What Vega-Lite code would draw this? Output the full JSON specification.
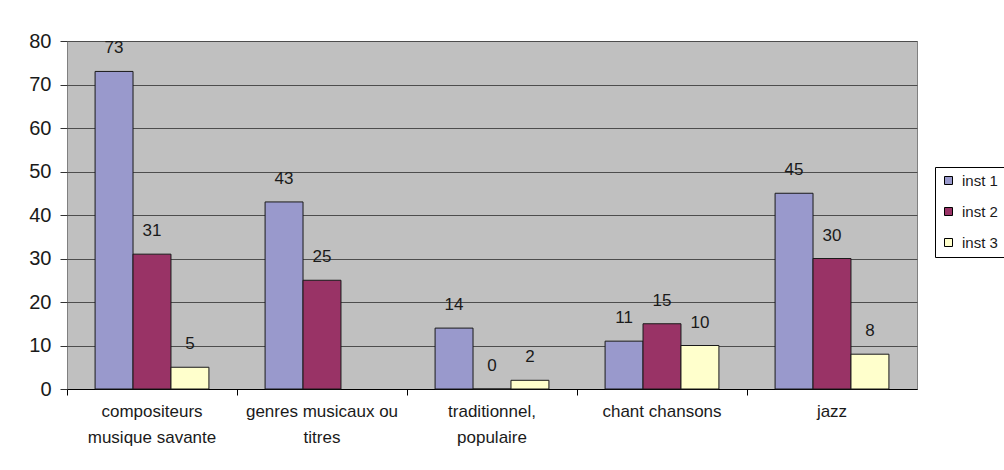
{
  "$schema": "https://vega.github.io/schema/vega-lite/v6.json",
  "autosize": {"type": "none"},
  "padding": {"left": 67, "top": 41, "right": 87, "bottom": 81},
  "width": 850,
  "height": 348,
  "background": "#ffffff",
  "config": {
    "font": "Liberation Sans",
    "view": {"fill": "#C0C0C0", "stroke": "#808080", "strokeWidth": 1}
  },
  "data": {
    "values": [
      {"cat": "compositeurs|musique savante", "serie": "inst 1", "val": 73},
      {"cat": "compositeurs|musique savante", "serie": "inst 2", "val": 31},
      {"cat": "compositeurs|musique savante", "serie": "inst 3", "val": 5},
      {"cat": "genres musicaux ou|titres", "serie": "inst 1", "val": 43},
      {"cat": "genres musicaux ou|titres", "serie": "inst 2", "val": 25},
      {"cat": "traditionnel,|populaire", "serie": "inst 1", "val": 14},
      {"cat": "traditionnel,|populaire", "serie": "inst 2", "val": 0},
      {"cat": "traditionnel,|populaire", "serie": "inst 3", "val": 2},
      {"cat": "chant chansons", "serie": "inst 1", "val": 11},
      {"cat": "chant chansons", "serie": "inst 2", "val": 15},
      {"cat": "chant chansons", "serie": "inst 3", "val": 10},
      {"cat": "jazz", "serie": "inst 1", "val": 45},
      {"cat": "jazz", "serie": "inst 2", "val": 30},
      {"cat": "jazz", "serie": "inst 3", "val": 8}
    ]
  },
  "encoding": {
    "x": {
      "field": "cat", "type": "nominal", "sort": null,
      "scale": {"paddingInner": 0, "paddingOuter": 0},
      "axis": {
        "title": null, "labelAngle": 0, "bandPosition": 0,
        "labelExpr": "split(datum.label, '|')",
        "labelFontSize": 17, "labelColor": "#1a1a1a", "labelLineHeight": 26,
        "labelPadding": 8, "tickSize": 6, "tickColor": "#000000",
        "domainColor": "#000000", "grid": false, "labelBaseline": "top"
      }
    },
    "xOffset": {
      "field": "serie", "type": "nominal",
      "scale": {"paddingOuter": 0.74, "paddingInner": 0}
    },
    "y": {
      "field": "val", "type": "quantitative",
      "scale": {"domain": [0, 80], "nice": false},
      "axis": {
        "title": null, "values": [0, 10, 20, 30, 40, 50, 60, 70, 80],
        "labelFontSize": 20, "labelColor": "#1a1a1a", "labelPadding": 9,
        "tickSize": 7, "tickColor": "#333333", "domain": false,
        "grid": true, "gridColor": "#4d4d4d", "gridWidth": 1
      }
    }
  },
  "layer": [
    {
      "mark": {"type": "bar", "stroke": "#1a1a1a", "strokeWidth": 1},
      "encoding": {
        "color": {
          "field": "serie", "type": "nominal",
          "scale": {"domain": ["inst 1", "inst 2", "inst 3"], "range": ["#9999CC", "#993366", "#FFFFCC"]},
          "legend": {
            "title": null, "orient": "none", "legendX": 868, "legendY": 126,
            "strokeColor": "#000000", "fillColor": "#ffffff", "padding": 6,
            "symbolType": "square", "symbolSize": 64, "symbolStrokeColor": "#000000", "symbolStrokeWidth": 1,
            "labelFontSize": 15, "labelColor": "#1a1a1a", "rowPadding": 15, "labelOffset": 6
          }
        }
      }
    },
    {
      "mark": {"type": "text", "baseline": "middle", "dy": -23, "fontSize": 17, "color": "#1a1a1a"},
      "encoding": {"text": {"field": "val", "type": "quantitative"}}
    }
  ]
}
